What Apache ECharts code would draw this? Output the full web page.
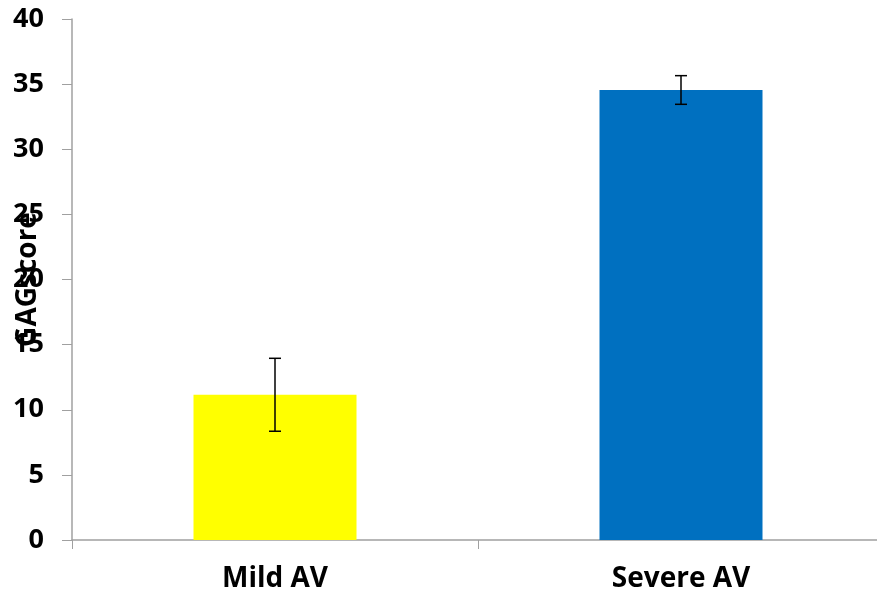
<!DOCTYPE html>
<html><head><meta charset="utf-8">
<script src="https://cdn.jsdelivr.net/npm/echarts@6/dist/echarts.min.js"></script>
<style>html,body{margin:0;padding:0;background:#fff}#c{width:877px;height:595px}</style>
</head><body><div id="c"></div>
<script>
const categories = ['Mild AV', 'Severe AV'];
const means = [11.15, 34.55];
const errors = [2.8, 1.1];
const barColors = ['#FFFF00', '#0070C0'];
const yTicks = [0, 5, 10, 15, 20, 25, 30, 35, 40];

const chart = echarts.init(document.getElementById('c'));
const errData = categories.map((c, i) => [i, means[i] - errors[i], means[i] + errors[i]]);
chart.setOption({
  animation: false,
  grid: { left: 72, top: 19, bottom: 55, right: -7, containLabel: false, outerBoundsMode: 'none' },
  xAxis: {
    type: 'category', data: categories,
    axisLine: { lineStyle: { color: '#A0A0A0', width: 1.5 } },
    axisTick: { show: true, length: 9, lineStyle: { color: '#A0A0A0' }, alignWithLabel: false },
    axisLabel: { color: '#000', fontFamily: 'Open Sans', fontWeight: 'bold', fontSize: 28, margin: 25 }
  },
  yAxis: {
    type: 'value', min: 0, max: 40, interval: 5,
    name: 'GAGscore', nameLocation: 'middle', nameGap: 30, nameRotate: 90, nameMoveOverlap: false,
    nameTextStyle: { color: '#000', fontFamily: 'Open Sans', fontWeight: 'bold', fontSize: 28 },
    axisLine: { show: true, lineStyle: { color: '#A0A0A0', width: 1.5 } },
    axisTick: { show: true, length: 10, lineStyle: { color: '#A0A0A0' } },
    splitLine: { show: false },
    axisLabel: { color: '#000', fontFamily: 'Open Sans', fontWeight: 'bold', fontSize: 27, margin: 28,
      formatter: v => yTicks.includes(v) ? String(v) : '' }
  },
  series: [
    {
      type: 'bar', barWidth: 163,
      data: means.map((v, i) => ({ value: v, itemStyle: { color: barColors[i] } }))
    },
    {
      type: 'custom', z: 10,
      data: errData,
      renderItem: function (params, api) {
        const x = api.value(0);
        const lo = api.coord([x, api.value(1)]);
        const hi = api.coord([x, api.value(2)]);
        const hw = 6;
        const style = { stroke: '#000', lineWidth: 1.5 };
        return { type: 'group', children: [
          { type: 'line', shape: { x1: lo[0], y1: lo[1], x2: hi[0], y2: hi[1] }, style },
          { type: 'line', shape: { x1: lo[0] - hw, y1: lo[1], x2: lo[0] + hw, y2: lo[1] }, style },
          { type: 'line', shape: { x1: hi[0] - hw, y1: hi[1], x2: hi[0] + hw, y2: hi[1] }, style }
        ]};
      }
    }
  ]
});
</script></body></html>
